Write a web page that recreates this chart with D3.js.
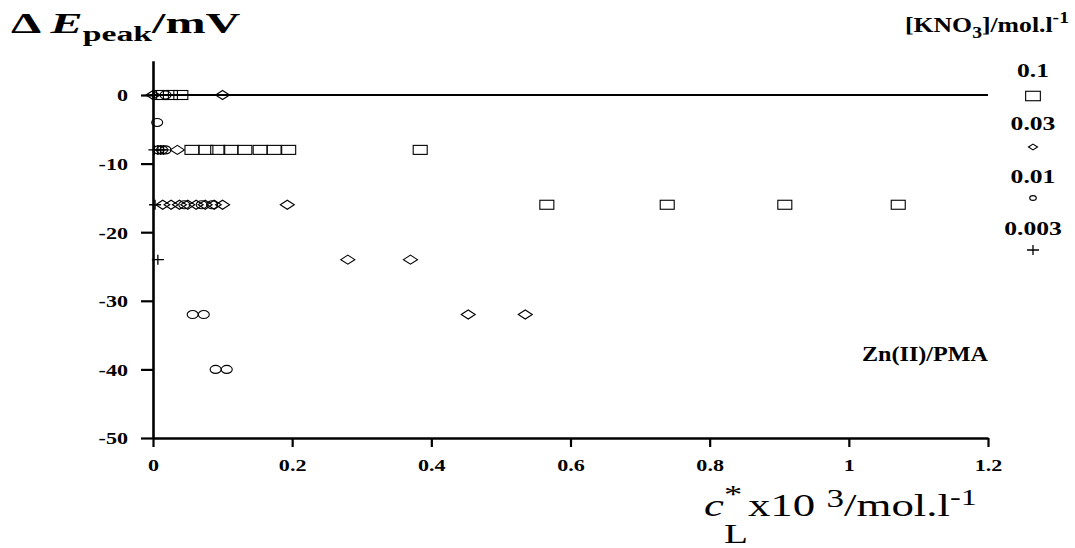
<!DOCTYPE html>
<html>
<head>
<meta charset="utf-8">
<script src="https://cdn.jsdelivr.net/npm/d3@7"></script>
<style>
  html, body { margin: 0; padding: 0; background: #fff; }
  svg text { font-family: "Liberation Serif", "Times New Roman", serif; font-weight: bold; fill: #000; }
</style>
</head>
<body>
<svg id="chart" width="1075" height="548"></svg>
<script>
// Peak potential shift vs ligand concentration, one series per KNO3 level
const xTicks = [0, 0.2, 0.4, 0.6, 0.8, 1, 1.2];
const xTickLabels = ["0", "0.2", "0.4", "0.6", "0.8", "1", "1.2"];
const yTicks = [0, -10, -20, -30, -40, -50];
const yTickLabels = ["0", "-10", "-20", "-30", "-40", "-50"];

const saltLevels = ["0.1", "0.03", "0.01", "0.003"];
const saltShapes = ["square", "diamond", "circle", "cross"];

// [KNO3] = 0.1 mol/l
const sq_c = [0.012, 0.025, 0.04, 0.056, 0.076, 0.093, 0.112, 0.132, 0.154, 0.174, 0.195, 0.384, 0.566, 0.739, 0.908, 1.071];
const sq_dE = [0, 0, 0, -8, -8, -8, -8, -8, -8, -8, -8, -8, -16, -16, -16, -16];
// [KNO3] = 0.03 mol/l
const di_c = [0.0, 0.1, 0.035, 0.014, 0.026, 0.038, 0.05, 0.062, 0.075, 0.088, 0.1, 0.193, 0.28, 0.37, 0.453, 0.535];
const di_dE = [0, 0, -8, -16, -16, -16, -16, -16, -16, -16, -16, -16, -24, -24, -32, -32];
// [KNO3] = 0.01 mol/l
const ci_c = [0.006, 0.018, 0.008, 0.013, 0.018, 0.045, 0.07, 0.085, 0.057, 0.073, 0.09, 0.106];
const ci_dE = [-4, 0, -8, -8, -8, -16, -16, -16, -32, -32, -40, -40];
// [KNO3] = 0.003 mol/l
const cr_c = [0.0, 0.005, 0.002, 0.007, 0.011, 0.015, 0.003, 0.007];
const cr_dE = [0, 0, -8, -8, -8, -8, -16, -24];

const svg = d3.select("#chart");
const x = d3.scaleLinear().domain([0, 1.2]).range([153, 988]);
const y = d3.scaleLinear().domain([-50, 5]).range([438, 60.7]);

// Place a text so that its ink starts at x0 and spans the given width (glyphs widened horizontally)
function fitText(sel, x0, baseY, width) {
  sel.attr("x", 0).attr("y", 0);
  const bb = sel.node().getBBox();
  const k = width / bb.width;
  sel.attr("transform", `translate(${x0 - bb.x * k},${baseY}) scale(${k},1)`);
}

// zero reference line
svg.append("line")
  .attr("x1", x(0)).attr("x2", x(1.2))
  .attr("y1", y(0)).attr("y2", y(0))
  .attr("stroke", "#000").attr("stroke-width", 2.2);

// axes
const xAxis = svg.append("g").attr("transform", `translate(0,${y(-50)})`)
  .call(d3.axisBottom(x).tickValues(xTicks).tickFormat((d, i) => xTickLabels[i]).tickSize(9).tickSizeOuter(0));
const yAxis = svg.append("g").attr("transform", `translate(${x(0)},0)`)
  .call(d3.axisLeft(y).tickValues(yTicks).tickFormat((d, i) => yTickLabels[i]).tickSize(12).tickSizeOuter(0));
[xAxis, yAxis].forEach(g => {
  g.attr("font-family", null).attr("font-size", null);
  g.select(".domain").attr("stroke", "#000").attr("stroke-width", 2.6);
  g.selectAll(".tick line").attr("stroke", "#000").attr("stroke-width", 2.2);
  g.selectAll(".tick text")
    .style("font-family", '"Liberation Serif", serif')
    .style("font-weight", "bold").style("font-size", "17px").attr("fill", "#000");
});
xAxis.selectAll(".tick text").attr("y", 0).attr("dy", null)
  .attr("transform", "translate(0,33) scale(1.3,1)");
yAxis.selectAll(".tick text").attr("x", 0).attr("dy", "0.35em")
  .attr("transform", "translate(-25,0) scale(1.3,1)");

// marker shapes
function drawMarker(g, shape, cx, cy, scale) {
  const s = scale || 1;
  if (shape === "square") {
    g.append("rect").attr("x", cx - 7 * s).attr("y", cy - 4.5 * s)
      .attr("width", 14 * s).attr("height", 9 * s)
      .attr("fill", "none").attr("stroke", "#000").attr("stroke-width", 1.1);
  } else if (shape === "diamond") {
    g.append("path")
      .attr("d", `M${cx - 7 * s},${cy}L${cx},${cy - 4.5 * s}L${cx + 7 * s},${cy}L${cx},${cy + 4.5 * s}Z`)
      .attr("fill", "none").attr("stroke", "#000").attr("stroke-width", 1.1);
  } else if (shape === "circle") {
    g.append("ellipse").attr("cx", cx).attr("cy", cy)
      .attr("rx", 5.5 * s).attr("ry", 4 * s)
      .attr("fill", "none").attr("stroke", "#000").attr("stroke-width", 1.1);
  } else {
    g.append("path")
      .attr("d", `M${cx - 6 * s},${cy}H${cx + 6 * s}M${cx},${cy - 5 * s}V${cy + 5 * s}`)
      .attr("stroke", "#000").attr("stroke-width", 1.3);
  }
}

const seriesData = [
  { shape: "square", c: sq_c, e: sq_dE },
  { shape: "diamond", c: di_c, e: di_dE },
  { shape: "circle", c: ci_c, e: ci_dE },
  { shape: "cross", c: cr_c, e: cr_dE }
];
const marks = svg.append("g");
seriesData.forEach(s => {
  s.c.forEach((cv, i) => drawMarker(marks, s.shape, x(cv), y(s.e[i]), 1));
});

// y-axis title
const yt = svg.append("text").style("font-size", "30px");
yt.append("tspan").text("Δ ");
yt.append("tspan").style("font-style", "italic").text("E");
yt.append("tspan").attr("dy", 8).style("font-size", "21px").text("peak");
yt.append("tspan").attr("dy", -8).text("/mV");
fitText(yt, 11, 33, 230);

// x-axis title
const xt = svg.append("text").style("font-size", "32px").style("font-weight", "normal");
xt.append("tspan").style("font-style", "italic").text("c");
xt.append("tspan").attr("dy", -13).style("font-size", "26px").text("*");
xt.append("tspan").attr("dx", -13).attr("dy", 40).style("font-size", "28px").text("L");
xt.append("tspan").attr("dy", -27).text("x10 ");
xt.append("tspan").attr("dy", -9).style("font-size", "25px").text("3");
xt.append("tspan").attr("dy", 9).text("/mol.l");
xt.append("tspan").attr("dy", -11).style("font-size", "23px").text("-1");
fitText(xt, 704, 516, 273);

// annotation
const ann = svg.append("text").style("font-size", "21px").text("Zn(II)/PMA");
fitText(ann, 862, 361, 127);

// legend
const lh = svg.append("text").style("font-size", "21px");
lh.append("tspan").text("[KNO");
lh.append("tspan").attr("dy", 6).style("font-size", "16px").text("3");
lh.append("tspan").attr("dy", -6).text("]/mol.l");
lh.append("tspan").attr("dy", -9).style("font-size", "16px").text("-1");
fitText(lh, 905, 32, 164);

const legY = [77, 130, 183, 235];
const legMarkY = [96, 147, 198, 250];
saltLevels.forEach((lv, i) => {
  svg.append("text").attr("x", 0).attr("y", 0).attr("text-anchor", "middle")
    .attr("transform", `translate(1033,${legY[i]}) scale(1.35,1)`)
    .style("font-size", "19px").text(lv);
  const sc = { square: 1.05, diamond: 0.65, circle: 0.6, cross: 1.0 }[saltShapes[i]];
  drawMarker(svg, saltShapes[i], 1033, legMarkY[i], sc);
});
</script>
</body>
</html>
